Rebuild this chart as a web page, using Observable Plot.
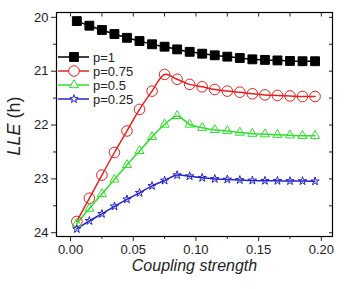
<!DOCTYPE html>
<html>
<head>
<meta charset="utf-8">
<script src="https://cdn.jsdelivr.net/npm/d3@7"></script>
<script src="https://cdn.jsdelivr.net/npm/@observablehq/plot@0.6"></script>
<style>
  html, body { margin: 0; padding: 0; background: #fff; }
  #chart { position: relative; width: 349px; height: 289px; }
  g[aria-label="x-axis label"] text { font-style: italic; font-size: 16px; }
</style>
</head>
<body>
<div id="chart"></div>
<script>
const coupling = [0.005, 0.015, 0.025, 0.035, 0.045, 0.055, 0.065, 0.075, 0.085, 0.095,
                  0.105, 0.115, 0.125, 0.135, 0.145, 0.155, 0.165, 0.175, 0.185, 0.195];
const p1    = [20.07, 20.155, 20.235, 20.31, 20.38, 20.44, 20.50, 20.545, 20.595, 20.64,
               20.675, 20.705, 20.73, 20.755, 20.78, 20.79, 20.80, 20.81, 20.815, 20.815];
const p075  = [23.79, 23.36, 22.93, 22.51, 22.11, 21.71, 21.37, 21.06, 21.15, 21.245,
               21.29, 21.34, 21.37, 21.39, 21.42, 21.44, 21.45, 21.46, 21.47, 21.47];
const p05   = [23.83, 23.55, 23.28, 23.01, 22.74, 22.48, 22.22, 21.99, 21.83, 21.99,
               22.05, 22.09, 22.11, 22.14, 22.16, 22.17, 22.18, 22.19, 22.20, 22.20];
const p025  = [23.93, 23.78, 23.65, 23.51, 23.38, 23.26, 23.13, 23.03, 22.93, 22.95,
               22.98, 23.00, 23.01, 23.02, 23.03, 23.035, 23.035, 23.04, 23.04, 23.045];
const seriesNames = ["p=1", "p=0.75", "p=0.5", "p=0.25"];
const seriesValues = [p1, p075, p05, p025];
const colors = ["#000000", "#e8201e", "#2ee02e", "#2424c8"];
const symbols = ["square", "circle", "triangle", "star"];
const fills = ["#000000", "none", "none", "none"];
const radii = [5, 5.3, 3.4, 2.6];
const xMajor = [0, 0.05, 0.10, 0.15, 0.20];
const xMinor = [0.025, 0.075, 0.125, 0.175];
const yMajor = [20, 21, 22, 23, 24];
const yMinor = [20.5, 21.5, 22.5, 23.5];

const rows = [];
seriesNames.forEach((name, i) => {
  coupling.forEach((c, j) => rows.push({series: name, x: c, y: seriesValues[i][j]}));
});

const marks = [];
seriesNames.forEach((name, i) => {
  const d = rows.filter(r => r.series === name);
  marks.push(Plot.line(d, {x: "x", y: "y", stroke: colors[i], strokeWidth: 1.5, curve: "catmull-rom"}));
});
seriesNames.forEach((name, i) => {
  const d = rows.filter(r => r.series === name);
  marks.push(Plot.dot(d, {x: "x", y: "y", symbol: () => symbols[i], r: radii[i],
    stroke: colors[i], fill: fills[i], strokeWidth: 1}));
});

const plot = Plot.plot({
  width: 349,
  height: 289,
  marginLeft: 56,
  marginRight: 17,
  marginTop: 12,
  marginBottom: 53,
  style: {fontFamily: "'Liberation Sans', Arial, sans-serif", fontSize: "13px", color: "#222", background: "#fff"},
  x: {domain: [-0.0112, 0.2089]},
  y: {domain: [19.91, 24.07], reverse: true},
  marks: [
    Plot.axisX({ticks: xMajor, tickSize: 5, tickPadding: 3, tickFormat: d3.format(".2f"),
      label: "Coupling strength", labelAnchor: "center", labelArrow: "none", labelOffset: 34}),
    Plot.axisX({ticks: xMinor, tickSize: 3, tickFormat: () => "", label: null}),
    Plot.axisX({anchor: "top", ticks: xMajor.concat(xMinor), tickSize: -3.5, tickFormat: () => "", label: null}),
    Plot.axisY({ticks: yMajor, tickSize: 5, tickPadding: 3, tickFormat: d3.format("d"), label: null}),
    Plot.axisY({ticks: yMinor, tickSize: 3, tickFormat: () => "", label: null}),
    Plot.axisY({anchor: "right", ticks: yMajor.concat(yMinor), tickSize: -4, tickFormat: () => "", label: null}),
    Plot.frame({stroke: "#000", strokeWidth: 1.2}),
    ...marks
  ]
});

const svg = d3.select(plot);
// y-axis title with mixed styling
const yt = svg.append("text")
  .attr("transform", `translate(15,${(12 + 236) / 2 + 2}) rotate(-90)`)
  .attr("text-anchor", "middle")
  .attr("dominant-baseline", "middle")
  .attr("font-size", 18)
  .attr("fill", "#222");
yt.append("tspan").attr("font-style", "italic").text("LLE");
yt.append("tspan").text(" (h)");

// legend
const lg = svg.append("g").attr("transform", "translate(58,57)");
seriesNames.forEach((name, i) => {
  const g = lg.append("g").attr("transform", `translate(0,${i * 14})`);
  g.append("line").attr("x1", 0).attr("x2", 31).attr("y1", 0).attr("y2", 0)
    .attr("stroke", colors[i]).attr("stroke-width", 1.5);
  const symType = {square: d3.symbolSquare, circle: d3.symbolCircle, triangle: d3.symbolTriangle, star: d3.symbolStar}[symbols[i]];
  g.append("path").attr("transform", "translate(16,0)")
    .attr("d", d3.symbol(symType, Math.PI * radii[i] * radii[i])())
    .attr("fill", fills[i] === "none" ? "#fff" : fills[i]).attr("stroke", colors[i]).attr("stroke-width", 1);
  g.append("text").attr("x", 35).attr("y", 0).attr("dy", "0.35em")
    .attr("text-anchor", "start")
    .attr("font-size", 13).attr("fill", "#222").text(name);
});

document.getElementById("chart").appendChild(plot);
</script>
</body>
</html>
